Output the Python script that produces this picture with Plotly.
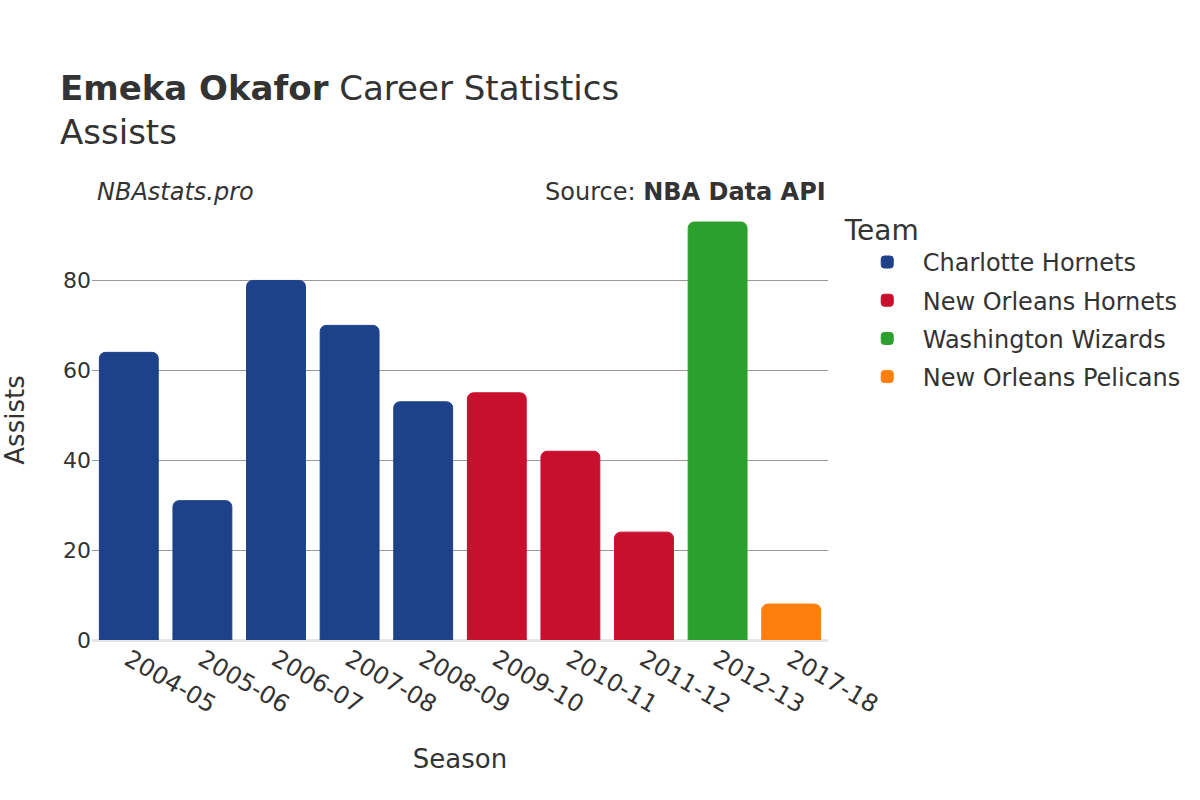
import plotly.graph_objects as go

seasons = ["2004-05", "2005-06", "2006-07", "2007-08", "2008-09",
           "2009-10", "2010-11", "2011-12", "2012-13", "2017-18"]
teams = ["Charlotte Hornets", "Charlotte Hornets", "Charlotte Hornets", "Charlotte Hornets",
         "Charlotte Hornets", "New Orleans Hornets", "New Orleans Hornets",
         "New Orleans Hornets", "Washington Wizards", "New Orleans Pelicans"]
assists = [64, 31, 80, 70, 53, 55, 42, 24, 93, 8]

team_order = ["Charlotte Hornets", "New Orleans Hornets", "Washington Wizards", "New Orleans Pelicans"]
team_colors = {"Charlotte Hornets": "#1d428a", "New Orleans Hornets": "#c8102e",
               "Washington Wizards": "#2ca02c", "New Orleans Pelicans": "#ff7f0e"}

fig = go.Figure()
for team in team_order:
    xs = [s for s, t in zip(seasons, teams) if t == team]
    ys = [a for a, t in zip(assists, teams) if t == team]
    fig.add_trace(go.Bar(x=xs, y=ys, name=team, legendgroup=team,
                         marker=dict(color=team_colors[team], cornerradius=6,
                                     line=dict(width=1, color=team_colors[team]))))

fig.update_layout(
    width=1200, height=800,
    barmode="relative", bargap=0.2,
    font=dict(family="DejaVu Sans", color="#333333", size=22),
    plot_bgcolor="white", paper_bgcolor="white",
    margin=dict(l=92, r=372, t=200, b=160),
    title=dict(text="<b>Emeka Okafor</b> Career Statistics<br>Assists",
               x=0.05, xanchor="left", y=0.875, yanchor="top",
               font=dict(size=34)),
    legend=dict(title=dict(text="Team", font=dict(size=28)), font=dict(size=24),
                x=1.02, y=0.992, yanchor="top", itemwidth=61, indentation=9,
                tracegroupgap=4),
    xaxis=dict(type="category", title=dict(text="Season", font=dict(size=26), standoff=32),
               tickangle=30, tickfont=dict(size=24),
               categoryorder="array", categoryarray=seasons),
    yaxis=dict(title=dict(text="Assists", font=dict(size=26), standoff=30), gridcolor="#999999",
               zerolinecolor="#e6e6e6", zerolinewidth=3, range=[0, 97.9], dtick=20,
               automargin=False),
    annotations=[
        dict(text="<i>NBAstats.pro</i>", xref="paper", yref="paper", x=0.004, y=0.982,
             xanchor="left", yanchor="bottom", showarrow=False, font=dict(size=24)),
        dict(text="Source: <b>NBA Data API</b>", xref="paper", yref="paper", x=1.0, y=0.982,
             xanchor="right", yanchor="bottom", showarrow=False, font=dict(size=24)),
    ],
)

fig.write_html("out.html", config={"displayModeBar": False},
               post_script="document.body.style.margin='0';")
